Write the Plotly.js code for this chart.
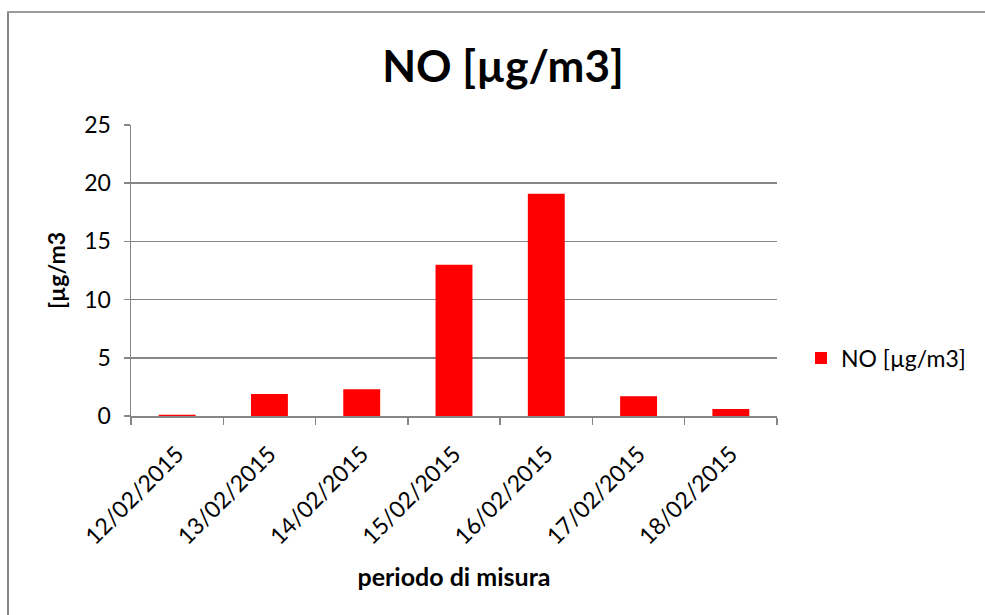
<!DOCTYPE html>
<html>
<head>
<meta charset="utf-8">
<script src="https://cdn.plot.ly/plotly-3.0.1.min.js"></script>
<style>
html,body{margin:0;padding:0;background:#fff;}
#chart{width:985px;height:615px;}
</style>
</head>
<body>
<div id="chart"></div>
<script>
const categories = ["12/02/2015","13/02/2015","14/02/2015","15/02/2015","16/02/2015","17/02/2015","18/02/2015"];
const noValues = [0.1, 1.9, 2.3, 13.0, 19.1, 1.7, 0.6];
const seriesName = "NO [µg/m3]";
const yTicks = [0, 5, 10, 15, 20, 25];

const FONT = "Lato, 'Noto Sans', sans-serif";
const W = 985, H = 615;
const M = {l: 131, r: 208, t: 125, b: 199};
const pw = W - M.l - M.r, ph = H - M.t - M.b;
const px = v => (v - M.l) / pw;
const py = v => (H - M.b - v) / ph;

const trace = {
  type: 'bar',
  x: categories,
  y: noValues,
  name: seriesName,
  marker: {color: '#FF0000', line: {width: 0}},
  hoverinfo: 'x+y'
};

const layout = {
  width: W, height: H,
  margin: M,
  paper_bgcolor: '#fff',
  plot_bgcolor: '#fff',
  bargap: 0.6,
  showlegend: true,
  font: {family: FONT, color: '#000', size: 23},
  title: {
    text: '<b>NO [µg/m3]</b>',
    font: {family: FONT, size: 44, color: '#000'},
    x: 503 / W, xanchor: 'center', xref: 'container',
    y: 1 - 67 / H, yanchor: 'middle', yref: 'container'
  },
  xaxis: {
    type: 'category',
    tickangle: -45,
    ticks: 'outside',
    tickson: 'boundaries',
    ticklen: 7,
    tickwidth: 1.5,
    tickcolor: '#868686',
    ticklabelstandoff: 14,
    showline: true,
    linecolor: '#868686',
    linewidth: 1.5,
    showgrid: false,
    tickfont: {family: FONT, size: 23, color: '#000'},
    title: {text: '<b>periodo di misura</b>', font: {family: FONT, size: 25, color: '#000'}, standoff: 20}
  },
  yaxis: {
    range: [0, 25],
    tickvals: yTicks,
    ticks: 'outside',
    ticklen: 6,
    tickwidth: 1.5,
    tickcolor: '#868686',
    ticklabelstandoff: 8,
    showline: true,
    linecolor: '#868686',
    linewidth: 1.5,
    showgrid: true,
    gridcolor: '#868686',
    gridwidth: 1.5,
    zeroline: false,
    tickfont: {family: FONT, size: 23, color: '#000'},
    title: {text: '<b>[µg/m3</b>', font: {family: FONT, size: 23, color: '#000'}, standoff: 12}
  },
  legend: {
    x: px(801), xanchor: 'left',
    y: py(358), yanchor: 'middle',
    font: {family: FONT, size: 23, color: '#000'},
    bgcolor: 'rgba(0,0,0,0)',
    itemwidth: 30
  },
  shapes: [
    {type: 'line', xref: 'paper', yref: 'paper', x0: px(8), x1: px(8), y0: py(12), y1: py(640),
     line: {color: '#868686', width: 2}},
    {type: 'line', xref: 'paper', yref: 'paper', x0: px(7), x1: px(1000), y0: py(12), y1: py(12),
     line: {color: '#9a9a9a', width: 2}}
  ]
};

Plotly.newPlot('chart', [trace], layout, {displayModeBar: false, staticPlot: true});
</script>
</body>
</html>
